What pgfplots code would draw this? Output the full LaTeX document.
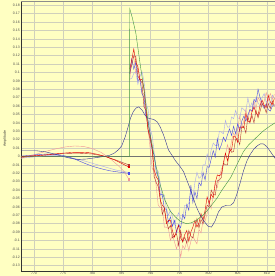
\documentclass[border=0pt]{standalone}
\usepackage{pgfplots}
\usepackage{pgfplotstable}
\pgfplotsset{compat=1.18}
\usepackage{fontspec}
\setmainfont{Liberation Sans}
\definecolor{bgy}{RGB}{255,255,194}
\definecolor{gridc}{RGB}{208,208,188}
\definecolor{cred}{RGB}{228,0,0}
\definecolor{cdred}{RGB}{180,50,50}
\definecolor{csal}{RGB}{242,150,150}
\definecolor{cblue}{RGB}{72,72,232}
\definecolor{clblue}{RGB}{168,168,240}
\definecolor{cnavy}{RGB}{48,48,150}
\definecolor{cgreen}{RGB}{64,150,64}
\pgfplotstableread{
x r s b lb dr
786.45 0.104 0.091 0.098 0.092 0.099
786.80 0.115 0.117 0.116 0.093 0.109
787.15 0.128 0.118 0.104 0.099 0.120
787.50 0.112 0.099 0.112 0.101 0.119
787.85 0.107 0.106 0.090 0.086 0.096
788.20 0.091 0.093 0.093 0.095 0.091
788.55 0.092 0.076 0.075 0.101 0.088
788.90 0.081 0.075 0.070 0.090 0.059
789.25 0.057 0.047 0.048 0.064 0.055
789.60 0.032 0.035 0.043 0.056 0.031
789.95 0.024 0.010 0.027 0.033 0.020
790.30 0.011 -0.014 0.007 0.025 0.010
790.65 -0.016 -0.018 0.002 0.005 -0.024
791.00 -0.024 -0.035 -0.018 -0.014 -0.031
791.35 -0.028 -0.058 -0.025 -0.018 -0.036
791.70 -0.052 -0.061 -0.046 -0.032 -0.051
792.05 -0.058 -0.061 -0.045 -0.049 -0.069
792.40 -0.061 -0.084 -0.062 -0.046 -0.062
792.75 -0.080 -0.084 -0.063 -0.062 -0.076
793.10 -0.076 -0.086 -0.078 -0.070 -0.086
793.45 -0.076 -0.100 -0.072 -0.064 -0.082
793.80 -0.089 -0.093 -0.083 -0.072 -0.097
794.15 -0.096 -0.102 -0.076 -0.081 -0.094
794.50 -0.088 -0.110 -0.091 -0.073 -0.092
794.85 -0.082 -0.100 -0.081 -0.067 -0.106
795.20 -0.097 -0.120 -0.085 -0.074 -0.088
795.55 -0.101 -0.106 -0.069 -0.075 -0.102
795.90 -0.093 -0.110 -0.074 -0.058 -0.096
796.25 -0.088 -0.101 -0.057 -0.058 -0.103
796.60 -0.101 -0.112 -0.064 -0.056 -0.088
796.95 -0.090 -0.101 -0.034 -0.040 -0.095
797.30 -0.084 -0.095 -0.055 -0.049 -0.097
797.65 -0.076 -0.100 -0.042 -0.031 -0.086
798.00 -0.084 -0.104 -0.050 -0.019 -0.074
798.35 -0.079 -0.087 -0.031 -0.026 -0.085
798.70 -0.068 -0.091 -0.035 -0.024 -0.075
799.05 -0.076 -0.076 -0.019 -0.010 -0.080
799.40 -0.064 -0.077 -0.028 -0.010 -0.069
799.75 -0.048 -0.068 -0.012 0.003 -0.058
800.10 -0.056 -0.054 -0.013 -0.005 -0.060
800.45 -0.045 -0.062 -0.003 0.008 -0.040
800.80 -0.049 -0.045 0.007 0.016 -0.045
801.15 -0.031 -0.032 -0.001 0.013 -0.046
801.50 -0.022 -0.037 0.021 0.013 -0.029
801.85 -0.023 -0.024 0.008 0.030 -0.028
802.20 -0.021 -0.015 0.014 0.029 -0.025
802.55 -0.007 -0.010 0.023 0.027 -0.008
802.90 0.004 0.002 0.018 0.043 -0.010
803.25 -0.005 0.014 0.026 0.035 -0.010
803.60 0.006 0.004 0.033 0.035 0.010
803.95 0.008 0.019 0.025 0.047 0.005
804.30 0.024 0.028 0.036 0.045 0.006
804.65 0.023 0.023 0.027 0.055 0.021
805.00 0.017 0.033 0.039 0.046 0.021
805.35 0.035 0.048 0.030 0.045 0.014
805.70 0.035 0.035 0.042 0.058 0.035
806.05 0.034 0.042 0.048 0.056 0.036
806.40 0.051 0.056 0.042 0.053 0.028
806.75 0.042 0.043 0.049 0.070 0.047
807.10 0.041 0.056 0.056 0.058 0.040
807.45 0.053 0.053 0.054 0.064 0.049
807.80 0.059 0.066 0.068 0.056 0.040
808.15 0.052 0.057 0.065 0.070 0.055
808.50 0.049 0.070 0.080 0.064 0.046
808.85 0.061 0.066 0.070 0.060 0.054
809.20 0.067 0.061 0.063 0.070 0.063
809.55 0.061 0.066 0.057 0.075 0.060
809.90 0.058 0.076 0.063 0.064 0.052
810.25 0.073 0.067 0.056 0.069 0.063
810.60 0.065 0.075 0.054 0.060 0.057
810.95 0.062 0.068 0.060 0.073 0.066
811.30 0.069 0.074 0.062 0.069 0.060
}\noisy
\begin{document}
\begin{tikzpicture}
\fill[bgy] (-21pt,-5pt) rectangle (254pt,271pt);
\begin{axis}[
  at={(0pt,0pt)}, anchor=south west,
  scale only axis, width=254pt, height=270pt,
  xmin=767.77, xmax=811.41, ymin=-0.1363, ymax=0.1851,
  axis x line*=bottom, axis y line*=left,
  axis line style={-, draw=black!80, line width=0.7pt},
  axis background/.style={fill=bgy},
  xtick={770,775,780,785,790,795,800,805,810},
  ytick={-0.13,-0.12,-0.11,-0.1,-0.09,-0.08,-0.07,-0.06,-0.05,-0.04,-0.03,-0.02,-0.01,0,0.01,0.02,0.03,0.04,0.05,0.06,0.07,0.08,0.09,0.1,0.11,0.12,0.13,0.14,0.15,0.16,0.17,0.18},
  extra y ticks={0}, extra y tick labels={},
  extra y tick style={grid style={draw=black!55, line width=0.5pt}},
  grid=major, grid style={draw=gridc, line width=0.5pt},
  tick style={draw=none},
  /pgf/number format/assume math mode=true,
  yticklabel style={/pgf/number format/fixed, /pgf/number format/precision=2, font=\fontsize{3.5}{4}\selectfont, text=black!70, inner sep=1pt},
  xticklabel style={/pgf/number format/set thousands separator={}, font=\fontsize{3.5}{4}\selectfont, text=black!70, inner sep=1pt},
  ylabel={Amplitude}, ylabel style={font=\fontsize{3.5}{4}\selectfont, text=black!80, at={(rel axis cs:-0.063,0.49)}, anchor=center},
  every axis plot/.append style={line width=0.4pt},
  clip=true,
  after end axis/.code={\draw[black!45, line width=0.8pt] (rel axis cs:0,1) -- (rel axis cs:1,1);}
]
% ---- pre-jump smooth parts ----
\addplot[clblue, no markers] coordinates {(767.77,-0.002) (770,-0.0005) (772,0.001) (774,0.001) (776,-0.001) (778,-0.004) (780,-0.008) (782,-0.012) (784,-0.016) (786.3,-0.019)};
\addplot[csal, mark=square*, mark size=0.7pt, mark indices={14}] coordinates {(767.77,-0.002) (769.5,0.001) (771,0.004) (772.5,0.007) (774,0.0095) (775.5,0.0115) (777,0.0125) (778.5,0.012) (780,0.0095) (781.5,0.005) (783,-0.002) (784.5,-0.011) (785.5,-0.018) (786.3,-0.027)};
\addplot[cdred, mark=square*, mark size=0.7pt, mark indices={9}] coordinates {(767.77,-0.001) (770,0.0005) (772.5,0.002) (775,0.0035) (777.5,0.004) (780,0.003) (782,0.0005) (784,-0.004) (786.3,-0.010)};
\addplot[cblue, mark=square*, mark size=0.7pt, mark indices={13}] coordinates {(767.77,0.0005) (769.5,0.0015) (771,0.0025) (772.5,0.003) (774,0.0025) (775.5,0.0005) (777,-0.003) (778.5,-0.0075) (780,-0.0115) (781.5,-0.0145) (783,-0.017) (784.5,-0.0185) (786.3,-0.020)};
\addplot[cred, mark=square*, mark size=0.7pt, mark indices={14}] coordinates {(767.77,0.000) (769,0.0005) (770.5,0.0012) (772,0.002) (773.5,0.003) (775,0.004) (776.5,0.0048) (778,0.005) (779.5,0.0045) (781,0.0025) (782.5,-0.0005) (784,-0.0045) (785.3,-0.009) (786.3,-0.0125)};
% ---- noisy parts ----
\addplot[clblue, no markers] table[x=x, y=lb] {\noisy};
\addplot[csal, no markers] table[x=x, y=s] {\noisy};
\addplot[cblue, no markers] table[x=x, y=b] {\noisy};
\addplot[cdred, no markers] table[x=x, y=dr] {\noisy};
\addplot[cred, no markers] table[x=x, y=r] {\noisy};
% ---- smooth curves ----
\addplot[cnavy, no markers] coordinates {
(767.77,0.0068) (770.5,0.0068) (772,0.0055) (773.5,0.003) (775,0.0) (776.5,-0.0025) (777.5,-0.0035) (779,-0.003) (780.5,-0.0015) (782,0.0)
(783,0.0015) (783.8,0.004) (784.5,0.008) (785.1,0.013) (785.7,0.024) (786.2,0.036) (786.6,0.046) (787.1,0.054) (787.6,0.058) (788.0,0.059)
(788.6,0.055) (789.0,0.050) (789.5,0.046) (790.0,0.045) (790.6,0.044) (791.2,0.041) (791.7,0.035) (792.3,0.025) (793.1,0.008) (794.3,-0.005)
(795.1,-0.012) (795.7,-0.018) (796.2,-0.027) (796.7,-0.036) (797.1,-0.044) (797.9,-0.060) (798.5,-0.069) (799.1,-0.076) (799.9,-0.083) (800.5,-0.084)
(801.1,-0.077) (801.7,-0.066) (802.3,-0.060) (803.1,-0.058) (803.8,-0.058) (804.3,-0.055) (804.8,-0.046) (805.4,-0.032) (806.0,-0.017) (806.6,-0.005)
(807.2,0.003) (807.8,0.009) (808.4,0.013) (808.9,0.015) (809.4,0.015) (809.8,0.013) (810.3,0.009) (810.7,0.005) (811.4,-0.002)};
\addplot[cgreen, no markers] coordinates {
(767.77,0.0) (786.42,0.0) (786.45,0.176) (786.9,0.165) (787.5,0.147) (788.3,0.107) (788.9,0.080) (789.3,0.058) (789.7,0.036) (790.3,0.014)
(790.8,-0.006) (791.3,-0.022) (791.7,-0.034) (792.5,-0.052) (793.4,-0.065) (794.3,-0.072) (795.1,-0.077) (796.2,-0.080) (797.0,-0.079) (797.9,-0.076)
(798.8,-0.071) (799.7,-0.065) (800.5,-0.058) (801.4,-0.050) (802.3,-0.040) (803.1,-0.032) (803.8,-0.025) (804.5,-0.015) (805.2,-0.005) (806.0,0.006)
(806.9,0.014) (807.8,0.020) (808.7,0.026) (809.5,0.031) (810.5,0.036) (811.4,0.040)};
\end{axis}
\pgfresetboundingbox
\useasboundingbox (-21pt,-5pt) rectangle (254pt,271pt);
\end{tikzpicture}
\end{document}
